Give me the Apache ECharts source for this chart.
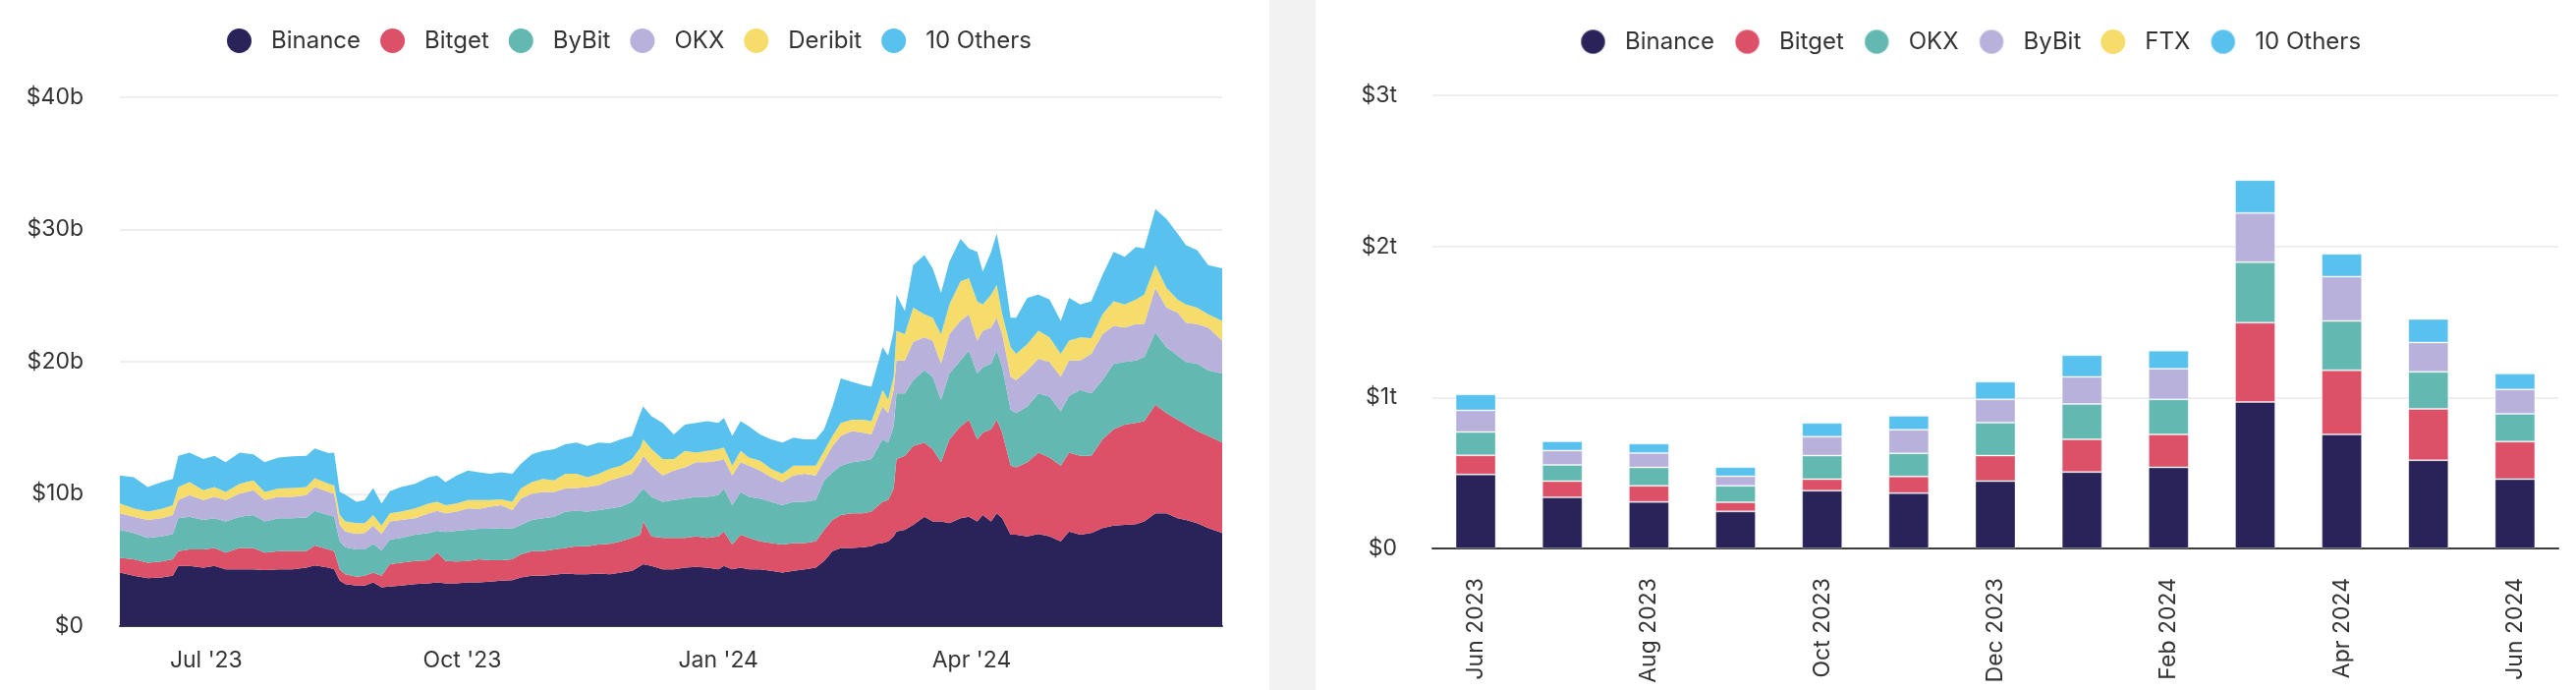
<!DOCTYPE html>
<html><head><meta charset="utf-8">
<script src="https://cdn.jsdelivr.net/npm/echarts@6/dist/echarts.min.js"></script>
<style>
html,body{margin:0;padding:0;background:#fff;}
#wrap{position:relative;width:2622px;height:702px;overflow:hidden;}
#left{position:absolute;left:0;top:0;width:1292px;height:702px;}
#sep{position:absolute;left:1292px;top:0;width:47px;height:702px;background:#f2f2f2;}
#right{position:absolute;left:1339px;top:0;width:1283px;height:702px;}
</style></head><body>
<div id="wrap"><div id="left"></div><div id="sep"></div><div id="right"></div></div>
<script>
// ---------- Left chart: daily open interest ($b) ----------
const dates = ['2023-05-31','2023-06-05','2023-06-10','2023-06-15','2023-06-19','2023-06-21','2023-06-25','2023-06-30','2023-07-04','2023-07-08','2023-07-13','2023-07-18','2023-07-22','2023-07-27','2023-08-01','2023-08-06','2023-08-09','2023-08-14','2023-08-16','2023-08-18','2023-08-20','2023-08-24','2023-08-27','2023-08-30','2023-09-02','2023-09-05','2023-09-09','2023-09-14','2023-09-19','2023-09-22','2023-09-25','2023-09-29','2023-10-03','2023-10-07','2023-10-11','2023-10-15','2023-10-19','2023-10-22','2023-10-26','2023-10-30','2023-11-03','2023-11-07','2023-11-11','2023-11-15','2023-11-19','2023-11-23','2023-11-27','2023-12-01','2023-12-04','2023-12-05','2023-12-08','2023-12-12','2023-12-16','2023-12-20','2023-12-24','2023-12-28','2024-01-01','2024-01-03','2024-01-06','2024-01-09','2024-01-12','2024-01-16','2024-01-20','2024-01-24','2024-01-28','2024-02-01','2024-02-05','2024-02-08','2024-02-11','2024-02-14','2024-02-18','2024-02-22','2024-02-25','2024-02-27','2024-02-29','2024-03-02','2024-03-04','2024-03-05','2024-03-08','2024-03-11','2024-03-15','2024-03-18','2024-03-21','2024-03-24','2024-03-28','2024-03-31','2024-04-03','2024-04-05','2024-04-08','2024-04-10','2024-04-12','2024-04-15','2024-04-17','2024-04-21','2024-04-25','2024-04-29','2024-05-03','2024-05-06','2024-05-10','2024-05-14','2024-05-18','2024-05-22','2024-05-26','2024-05-30','2024-06-02','2024-06-06','2024-06-10','2024-06-14','2024-06-17','2024-06-21','2024-06-25','2024-06-30'];
const binance = [4.05,3.81,3.63,3.68,3.81,4.55,4.55,4.43,4.55,4.30,4.30,4.30,4.23,4.30,4.30,4.43,4.60,4.43,4.30,3.43,3.18,3.06,3.06,3.31,2.94,2.99,3.06,3.18,3.23,3.31,3.23,3.23,3.31,3.31,3.36,3.43,3.48,3.68,3.81,3.81,3.88,3.98,3.93,3.93,3.98,3.93,4.05,4.18,4.55,4.68,4.55,4.30,4.30,4.43,4.48,4.43,4.30,4.55,4.30,4.43,4.30,4.30,4.18,4.05,4.18,4.30,4.43,4.93,5.67,5.92,5.92,5.97,6.04,6.22,6.29,6.42,6.79,7.16,7.29,7.66,8.28,7.91,7.91,7.79,8.16,8.28,7.91,8.41,7.91,8.53,8.16,6.92,6.92,6.79,6.97,6.79,6.42,7.16,6.92,7.04,7.41,7.61,7.66,7.71,7.91,8.53,8.53,8.16,8.03,7.79,7.41,7.04];
const bitget = [1.12,1.24,1.17,1.20,1.24,1.12,1.25,1.37,1.37,1.25,1.62,1.62,1.32,1.37,1.37,1.24,1.49,1.37,1.37,0.87,0.75,0.67,0.75,0.74,0.87,1.69,1.74,1.75,1.75,2.24,1.70,1.65,1.62,1.74,1.62,1.55,1.57,1.74,1.86,1.86,1.92,1.94,2.11,2.11,2.19,2.29,2.37,2.49,2.37,3.23,2.24,2.37,2.37,2.24,2.31,2.24,2.49,2.61,1.87,2.49,2.37,2.12,2.11,2.12,2.11,1.99,1.99,2.36,2.36,2.49,2.61,2.56,2.62,2.81,3.11,3.11,3.61,5.48,5.60,5.97,5.60,5.47,4.48,6.34,6.96,7.34,6.22,6.22,6.97,7.09,6.47,5.22,5.09,5.60,6.16,5.97,5.72,5.97,5.97,5.85,6.72,7.27,7.59,7.66,7.59,8.21,7.59,7.46,7.22,6.96,6.97,6.84];
const bybit = [2.12,1.99,1.87,1.91,1.92,2.49,2.48,2.23,2.24,2.36,2.36,2.49,2.36,2.49,2.49,2.54,2.62,2.61,2.61,2.12,2.04,2.07,1.99,2.17,1.91,1.86,1.87,1.99,2.06,1.66,2.18,2.33,2.36,2.31,2.38,2.43,2.31,2.24,2.36,2.49,2.48,2.74,2.67,2.62,2.61,2.69,2.61,2.73,3.23,2.49,2.99,2.73,2.86,2.98,2.99,3.11,3.11,3.24,2.98,3.23,3.11,3.23,3.11,2.98,3.11,3.11,3.11,3.73,3.61,3.73,3.86,3.98,3.98,4.35,4.73,4.35,4.72,4.97,4.72,4.98,5.47,5.48,4.72,4.97,4.98,5.23,4.97,4.97,4.97,5.23,4.97,4.23,4.11,4.23,4.48,4.60,4.10,4.28,4.97,4.72,4.48,4.97,4.73,4.73,4.85,5.47,4.97,4.85,4.73,5.10,4.97,5.22];
const okx = [1.24,1.24,1.36,1.37,1.44,1.37,1.62,1.50,1.62,1.62,1.74,1.86,1.62,1.62,1.62,1.69,1.81,1.74,1.74,1.24,1.19,1.17,1.24,1.39,1.25,1.37,1.36,1.24,1.49,1.50,1.42,1.45,1.62,1.50,1.67,1.74,1.42,1.99,1.99,1.99,1.87,1.74,1.74,1.86,1.87,2.11,2.24,2.12,2.24,2.49,2.36,1.99,2.24,2.36,2.61,2.61,2.61,2.24,2.24,2.24,2.36,2.12,1.87,1.75,1.99,2.12,1.86,1.49,1.99,2.24,2.36,2.12,1.86,2.24,2.49,2.24,2.74,2.49,2.49,2.90,2.49,2.73,2.74,2.99,2.98,2.73,2.49,2.74,2.74,2.48,2.49,2.49,2.49,2.73,2.61,2.62,2.62,2.69,2.24,2.99,3.48,2.86,2.61,2.74,2.49,3.36,2.99,3.24,2.98,2.99,3.24,2.49];
const deribit = [0.75,0.63,0.63,0.70,0.74,0.99,1.00,0.74,0.74,0.62,0.75,0.75,0.62,0.62,0.67,0.62,0.67,0.62,0.63,0.75,0.75,0.82,0.75,0.80,0.64,0.62,0.63,0.75,0.75,0.69,0.62,0.62,0.62,0.67,0.50,0.45,0.62,0.75,0.88,0.99,0.87,1.12,1.07,0.75,0.87,0.87,0.87,1.12,1.12,1.24,1.24,1.25,0.87,1.25,0.74,0.87,0.87,0.87,0.75,0.87,0.62,0.74,0.62,0.62,0.75,0.62,0.75,0.75,0.75,0.99,0.87,0.99,1.00,1.00,1.24,0.99,1.00,2.24,1.99,2.57,1.74,1.74,2.24,2.24,2.99,2.74,2.99,1.99,2.48,2.49,1.49,2.23,1.99,1.99,2.12,1.86,1.74,1.49,1.74,1.19,1.49,1.87,1.74,1.87,2.23,1.74,1.49,1.00,1.37,1.24,0.99,1.49];
const others = [2.11,2.36,1.86,2.04,1.99,2.37,2.23,2.37,2.37,2.24,2.36,1.97,2.24,2.36,2.39,2.37,2.24,2.31,2.48,1.74,2.04,1.61,1.74,2.04,1.67,1.67,1.86,1.86,1.99,1.99,1.75,2.11,2.24,2.11,1.99,2.04,2.12,1.86,2.09,2.12,2.36,2.24,2.36,2.36,2.36,1.94,1.99,1.74,2.61,2.49,2.49,2.73,1.86,1.99,2.24,2.24,1.99,2.24,2.24,2.24,2.36,1.99,2.24,2.36,2.11,1.99,1.99,1.62,2.24,3.36,2.86,2.61,2.61,2.98,3.23,3.36,3.48,2.73,1.74,3.23,4.48,3.73,3.11,3.23,3.23,2.24,3.73,2.49,3.24,3.86,3.98,2.24,2.73,3.49,2.73,2.87,2.48,3.24,2.49,2.79,2.99,3.73,3.60,3.97,3.49,4.23,5.23,4.97,4.48,4.35,3.73,3.98];
const leftNames = ['Binance','Bitget','ByBit','OKX','Deribit','10 Others'];
const xTickDates = ['2023-07-01','2023-10-01','2024-01-01','2024-04-01'];
const xTickLabels = ["Jul '23","Oct '23","Jan '24","Apr '24"];
const leftYTicks = [0,10,20,30,40];

// ---------- Right chart: monthly volume ($t) ----------
const months = ['Jun 2023','Jul 2023','Aug 2023','Sep 2023','Oct 2023','Nov 2023','Dec 2023','Jan 2024','Feb 2024','Mar 2024','Apr 2024','May 2024','Jun 2024'];
const binanceM = [0.490,0.338,0.308,0.245,0.383,0.366,0.446,0.506,0.537,0.970,0.755,0.584,0.459];
const bitgetM  = [0.127,0.108,0.107,0.061,0.076,0.110,0.169,0.217,0.218,0.525,0.425,0.340,0.249];
const okxM     = [0.154,0.107,0.122,0.109,0.156,0.154,0.218,0.234,0.232,0.400,0.326,0.245,0.184];
const bybitM   = [0.143,0.095,0.095,0.063,0.125,0.156,0.154,0.179,0.203,0.326,0.294,0.195,0.160];
const ftxM     = [0,0,0,0,0,0,0,0,0,0,0,0,0];
const othersM  = [0.106,0.062,0.062,0.061,0.091,0.093,0.117,0.144,0.120,0.218,0.151,0.155,0.106];
const rightNames = ['Binance','Bitget','OKX','ByBit','FTX','10 Others'];
const rightYTicks = [0,1,2,3];

// ---------- Styling ----------
const palette = ['#2A2359','#DD5168','#63B9B1','#B7B1DC','#F6DD6B','#59C1EE'];
const FONT = 'Inter, "Noto Sans", sans-serif';
const TXT = '#333333';
const FS = 23;
const DAY = 86400000;

function utcTs(s){ const p = s.split('-').map(Number); return Date.UTC(p[0], p[1]-1, p[2]); }

const legendBase = {
  top: 24, icon: 'circle', itemWidth: 25, itemHeight: 25, itemGap: 20,
  textStyle: { color: TXT, fontSize: 24, fontFamily: FONT, padding: [0,0,0,15] },
  selectedMode: false
};

// Left
const leftSeriesData = [binance, bitget, bybit, okx, deribit, others];
const tickTs = xTickDates.map(utcTs);
const leftChart = echarts.init(document.getElementById('left'), null, {renderer:'canvas'});
leftChart.setOption({
  animation: false,
  useUTC: true,
  color: palette,
  textStyle: { fontFamily: FONT },
  legend: Object.assign({}, legendBase, { left: 226, data: leftNames }),
  grid: { left: 122, right: 48, top: 99, bottom: 65, containLabel: false },
  xAxis: {
    type: 'time',
    min: utcTs(dates[0]), max: utcTs(dates[dates.length-1]),
    splitNumber: 13, minInterval: 28 * DAY,
    axisLine: { show: true, lineStyle: { color: '#3c3c3c', width: 2 } },
    axisTick: { show: false },
    splitLine: { show: false },
    axisLabel: {
      interval: 0,
      color: TXT, fontSize: FS, fontFamily: FONT, margin: 24,
      showMinLabel: false, showMaxLabel: false, hideOverlap: false,
      formatter: function (v) {
        const i = tickTs.indexOf(v);
        return i >= 0 ? xTickLabels[i] : '';
      }
    }
  },
  yAxis: {
    type: 'value', min: leftYTicks[0], max: leftYTicks[leftYTicks.length-1], interval: leftYTicks[1]-leftYTicks[0],
    axisLine: { show: false }, axisTick: { show: false },
    splitLine: { show: true, lineStyle: { color: '#eeeeee', width: 2 } },
    axisLabel: { color: TXT, fontSize: FS, fontFamily: FONT, margin: 37,
      formatter: v => v === 0 ? '$0' : '$' + v + 'b' }
  },
  series: leftNames.map((n, k) => ({
    name: n, type: 'line', stack: 'oi', showSymbol: false, symbol: 'none',
    lineStyle: { width: 0 }, areaStyle: { opacity: 1, color: palette[k] },
    itemStyle: { color: palette[k] },
    emphasis: { disabled: true },
    data: dates.map((d, i) => [utcTs(d), leftSeriesData[k][i]])
  }))
});

// Right
const rightSeriesData = [binanceM, bitgetM, okxM, bybitM, ftxM, othersM];
const rightChart = echarts.init(document.getElementById('right'), null, {renderer:'canvas'});
rightChart.setOption({
  animation: false,
  color: palette,
  textStyle: { fontFamily: FONT },
  legend: Object.assign({}, legendBase, { left: 264, data: rightNames }),
  grid: { left: 119, right: 18, top: 97, bottom: 144, containLabel: false },
  xAxis: {
    type: 'category', data: months, boundaryGap: true,
    axisLine: { show: true, lineStyle: { color: '#3c3c3c', width: 2 } },
    axisTick: { show: false },
    axisLabel: { rotate: 90, interval: 1, margin: 30, color: TXT, fontSize: FS, fontFamily: FONT }
  },
  yAxis: {
    type: 'value', min: rightYTicks[0], max: rightYTicks[rightYTicks.length-1], interval: rightYTicks[1]-rightYTicks[0],
    axisLine: { show: false }, axisTick: { show: false },
    splitLine: { show: true, lineStyle: { color: '#eeeeee', width: 2 } },
    axisLabel: { color: TXT, fontSize: FS, fontFamily: FONT, margin: 36,
      formatter: v => v === 0 ? '$0' : '$' + v + 't' }
  },
  series: rightNames.map((n, k) => ({
    name: n, type: 'bar', stack: 'vol', barWidth: 41,
    itemStyle: { color: palette[k], borderColor: 'rgba(255,255,255,0.35)', borderWidth: rightSeriesData[k].some(v => v > 0) ? 1 : 0 },
    emphasis: { disabled: true },
    data: rightSeriesData[k]
  }))
});
</script>
</body></html>
